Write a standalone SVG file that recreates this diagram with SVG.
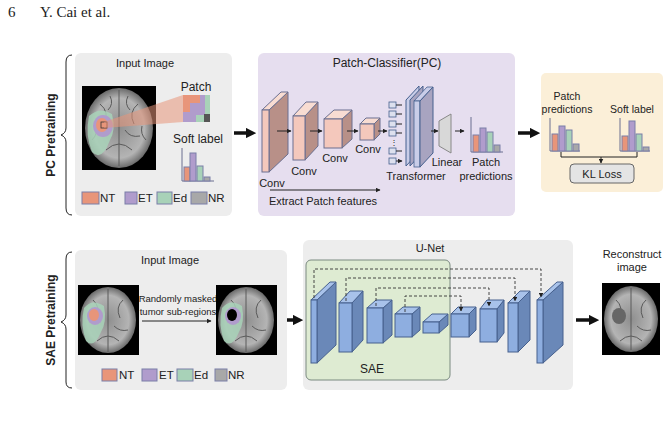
<svg xmlns="http://www.w3.org/2000/svg" width="669" height="430" viewBox="0 0 669 430">
<defs>
<style>
text{font-family:"Liberation Sans",Arial,sans-serif;font-size:11px;fill:#222}
.c{text-anchor:middle}
.lg{font-size:11.5px}
.nt{fill:#e8957a;stroke:#7a7fa8;stroke-width:1}
.et{fill:#b09ccc;stroke:#7a7fa8;stroke-width:1}
.ed{fill:#a8d2b8;stroke:#7a7fa8;stroke-width:1}
.nr{fill:#a8a8a8;stroke:#7a7fa8;stroke-width:1}
.ln{stroke:#222;stroke-width:1;fill:none}
.thick{stroke:#111;stroke-width:3.5;fill:none}
.dash{stroke:#333;stroke-width:0.9;fill:none;stroke-dasharray:3,2}
.pf{fill:#f4c8bc;stroke:#6a6f90;stroke-width:1}
.ps{fill:#b89088;stroke:#6a6f90;stroke-width:1}
.pt{fill:#f8dcd2;stroke:#6a6f90;stroke-width:1}
.bf{fill:#8eaee0;stroke:#46608e;stroke-width:1}
.bs{fill:#6a88b8;stroke:#46608e;stroke-width:1}
.bt{fill:#a8c2ea;stroke:#46608e;stroke-width:1}
.sul{stroke:#5a5a5a;stroke-width:1;fill:none}
</style>
<marker id="a" viewBox="0 0 10 10" refX="9" refY="5" markerWidth="5" markerHeight="5" orient="auto"><path d="M0,0L10,5L0,10z" fill="#222"/></marker>
<marker id="A" viewBox="0 0 10 10" refX="5" refY="5" markerWidth="3" markerHeight="3" orient="auto"><path d="M0,0L10,5L0,10z" fill="#111"/></marker>
<radialGradient id="brain" cx="0.5" cy="0.5" r="0.5"><stop offset="0" stop-color="#8e8e8e"/><stop offset="0.75" stop-color="#b4b4b4"/><stop offset="1" stop-color="#6a6a6a"/></radialGradient>
</defs>
<rect width="669" height="430" fill="#fff"/>
<text x="8" y="17" style="font-family:'Liberation Serif',serif;font-size:15px">6</text>
<text x="40" y="17" style="font-family:'Liberation Serif',serif;font-size:15px">Y. Cai et al.</text>

<g id="pc-label">
<path class="ln" d="M72,55 Q66,55 66,62 L66,128 Q66,133 61,135 Q66,137 66,142 L66,208 Q66,215 72,215"/>
<text transform="translate(55,135) rotate(-90)" class="c" style="font-weight:bold;font-size:12px">PC Pretraining</text>
</g>
<g id="input1">
<rect x="75" y="53" width="157" height="163" rx="6" fill="#ededed"/>
<text x="145" y="67" class="c">Input Image</text>
<rect x="82" y="86" width="74" height="84" fill="#000"/>
<ellipse cx="119" cy="128" rx="34" ry="40" fill="url(#brain)"/>
<path class="sul" d="M119,90 L119,166 M100,104 Q110,112 104,124 M138,104 Q128,112 134,124 M106,150 Q119,138 132,150 M92,140 Q98,134 96,126 M146,140 Q140,134 142,126 M110,96 Q114,104 108,110 M128,96 Q124,104 130,110 M125,130 Q130,138 140,136"/>
<path d="M89,116 Q100,106 112,114 Q116,130 110,140 Q102,162 92,152 Q85,135 89,116z" fill="#a8d2b8" opacity="0.85"/>
<ellipse cx="103" cy="126" rx="10" ry="11" fill="#b09ccc"/>
<ellipse cx="102" cy="125" rx="6" ry="7" fill="#e8957a"/>
<rect x="101" y="122" width="6" height="6" fill="none" stroke="#333" stroke-width="0.8"/>
<polygon points="104,122 183,95 183,122 104,128" fill="#e8957a" opacity="0.55"/>
<rect x="183" y="95" width="27" height="27" fill="#a8d2b8"/>
<path d="M183,95 H200 V103 H190 V112 H183z" fill="#e8957a"/>
<path d="M190,103 H200 V95 H205 V115 H196 V122 H183 V112 H190z" fill="#b09ccc"/>
<rect x="204" y="114" width="6" height="8" fill="#555"/>
<text x="196" y="91" class="c" style="font-size:12px">Patch</text>
<text x="198" y="143" class="c" style="font-size:12px">Soft label</text>
<path d="M182,148 V181 H214" stroke="#6a6f90" stroke-width="1" fill="none"/>
<rect x="184" y="167" width="6" height="14" class="nt"/>
<rect x="190" y="153" width="6" height="28" class="et"/>
<rect x="197" y="166" width="6" height="15" class="ed"/>
<rect x="204" y="177" width="6" height="4" class="nr"/>
<rect x="82" y="192" width="17" height="12" class="nt"/><text x="100" y="202" class="lg">NT</text>
<rect x="125" y="192" width="12" height="12" class="et"/><text x="138" y="202" class="lg">ET</text>
<rect x="157" y="192" width="15" height="12" class="ed"/><text x="173" y="202" class="lg">Ed</text>
<rect x="191" y="192" width="16" height="12" class="nr"/><text x="208" y="202" class="lg">NR</text>
</g>
<g id="connectors">
<path class="thick" d="M234,133 H251" marker-end="url(#A)"/>
<path class="thick" d="M518,133 H535" marker-end="url(#A)"/>
<path class="thick" d="M281,320 H298" marker-end="url(#A)"/>
<path class="thick" d="M576,320 H594" marker-end="url(#A)"/>
</g>
<g id="pc">
<rect x="258" y="53" width="257" height="163" rx="6" fill="#e6deef"/>
<text x="387" y="67" class="c" style="font-size:12px">Patch-Classifier(PC)</text>
<polygon class="ps" points="269,110 288,92 288,154 269,172"/><polygon class="pt" points="262,110 281,92 288,92 269,110"/><rect class="pf" x="262" y="110" width="7" height="62"/>
<polygon class="ps" points="305,116 318,102 318,146 305,160"/><polygon class="pt" points="293,116 306,102 318,102 305,116"/><rect class="pf" x="293" y="116" width="12" height="44"/>
<polygon class="ps" points="342,119 352,110 352,139 342,148"/><polygon class="pt" points="324,119 334,110 352,110 342,119"/><rect class="pf" x="324" y="119" width="18" height="29"/>
<polygon class="ps" points="374,124 380,118 380,134 374,140"/><polygon class="pt" points="360,124 366,118 380,118 374,124"/><rect class="pf" x="360" y="124" width="14" height="16"/>
<path class="ln" d="M277,131 H291" marker-end="url(#a)"/>
<path class="ln" d="M310,131 H322" marker-end="url(#a)"/>
<path class="ln" d="M347,131 H358" marker-end="url(#a)"/>
<path class="ln" d="M378,131 H387" marker-end="url(#a)"/>
<text x="272" y="187" class="c">Conv</text><text x="304" y="175" class="c">Conv</text><text x="335" y="162" class="c">Conv</text><text x="368" y="153" class="c">Conv</text>
<g fill="#dde0ee" stroke="#46608e" stroke-width="0.8">
<rect x="389" y="102" width="7" height="6"/><rect x="389" y="111" width="7" height="6"/><rect x="389" y="121" width="7" height="6"/><rect x="389" y="130" width="7" height="6"/><rect x="389" y="148" width="7" height="6"/><rect x="389" y="158" width="7" height="6"/>
</g>
<g class="ln" stroke-width="0.8"><path d="M396,105H402M396,114H402M396,124H402M396,133H402M396,151H402M396,161H402" marker-end="url(#a)"/></g>
<text x="390" y="145" style="font-size:8px">⋮</text>
<polygon points="406,100 419,86 419,152 406,166" fill="#c9cde8" stroke="#46608e"/>
<polygon points="410,100 423,86 423,152 410,166" fill="#a8a4c0" stroke="#46608e"/>
<polygon points="414,101 427,87 433,87 420,101" fill="#c9cde8" stroke="#46608e" stroke-width="0.8"/>
<rect x="414" y="101" width="6" height="66" fill="#c9cde8" stroke="#46608e" stroke-width="0.8"/>
<polygon points="420,101 433,87 433,153 420,167" fill="#a8a4c0" stroke="#46608e"/>
<path class="ln" d="M431,131 H438" marker-end="url(#a)"/>
<polygon points="439,121 451,114 451,153 439,146" fill="#d8d8d8" stroke="#888"/>
<path class="ln" d="M455,131 H464" marker-end="url(#a)"/>
<text x="416" y="180" class="c">Transformer</text>
<text x="447" y="166" class="c">Linear</text>
<path d="M471,117 V152 H503" stroke="#6a6f90" fill="none"/>
<rect x="473" y="135" width="6" height="17" class="nt"/><rect x="480" y="128" width="6" height="24" class="et"/><rect x="487" y="132" width="6" height="20" class="ed"/><rect x="494" y="145" width="6" height="7" class="nr"/>
<text x="486" y="166" class="c">Patch</text><text x="486" y="180" class="c">predictions</text>
<path class="ln" d="M270,190 H380" marker-end="url(#a)"/>
<text x="323" y="205" class="c">Extract Patch features</text>
</g>
<g id="kl">
<rect x="541" y="73" width="122" height="119" rx="5" fill="#fbefd8"/>
<text x="567" y="100" class="c" style="font-size:10.5px">Patch</text>
<text x="567" y="113" class="c" style="font-size:10.5px">predictions</text>
<text x="632" y="113" class="c" style="font-size:10.5px">Soft label</text>
<path d="M550,118 V151 H580" stroke="#6a6f90" fill="none"/>
<rect x="552" y="134" width="6" height="17" class="nt"/><rect x="559" y="126" width="6" height="25" class="et"/><rect x="566" y="130" width="6" height="21" class="ed"/><rect x="573" y="144" width="6" height="7" class="nr"/>
<path d="M620,118 V151 H650" stroke="#6a6f90" fill="none"/>
<rect x="622" y="136" width="6" height="15" class="nt"/><rect x="629" y="121" width="6" height="30" class="et"/><rect x="636" y="134" width="6" height="17" class="ed"/><rect x="643" y="147" width="6" height="4" class="nr"/>
<path class="ln" d="M561,152 V157 H637 V152 M601,157 V163" marker-end="url(#a)"/>
<rect x="570" y="164" width="64" height="19" rx="4" fill="#e4e4e4" stroke="#666"/>
<text x="602" y="178" class="c">KL Loss</text>
</g>

<g id="sae-label">
<path class="ln" d="M72,252 Q66,252 66,259 L66,315 Q66,320 61,322 Q66,324 66,329 L66,382 Q66,388 72,388"/>
<text transform="translate(55,320) rotate(-90)" class="c" style="font-weight:bold;font-size:12px">SAE Pretraining</text>
</g>
<g id="input2">
<rect x="75" y="250" width="212" height="140" rx="6" fill="#ededed"/>
<text x="170" y="264" class="c">Input Image</text>
<rect x="78" y="285" width="61" height="70" fill="#000"/>
<ellipse cx="108" cy="320" rx="28" ry="33" fill="url(#brain)"/>
<path class="sul" d="M108,289 V352 M93,300 Q101,307 96,318 M123,300 Q115,307 120,318 M97,341 Q108,331 119,341 M114,326 Q120,332 128,330"/>
<path d="M84,308 Q92,298 104,306 Q107,322 101,332 Q94,349 86,341 Q80,325 84,308z" fill="#a8d2b8" opacity="0.85"/>
<ellipse cx="95" cy="316" rx="8" ry="9" fill="#b09ccc"/><ellipse cx="94" cy="315" rx="5" ry="6" fill="#e8957a"/>
<text x="178" y="302" class="c" style="font-size:9.5px">Randomly masked</text>
<text x="178" y="315" class="c" style="font-size:9.5px">tumor sub-regions</text>
<path class="ln" d="M142,321 H211" marker-end="url(#a)"/>
<rect x="216" y="285" width="61" height="70" fill="#000"/>
<ellipse cx="246" cy="320" rx="28" ry="33" fill="url(#brain)"/>
<path class="sul" d="M246,289 V352 M231,300 Q239,307 234,318 M261,300 Q253,307 258,318 M235,341 Q246,331 257,341 M252,326 Q258,332 266,330"/>
<path d="M222,308 Q230,298 242,306 Q245,322 239,332 Q232,349 224,341 Q218,325 222,308z" fill="#a8d2b8" opacity="0.85"/>
<ellipse cx="233" cy="316" rx="8" ry="9" fill="#b09ccc"/><ellipse cx="232" cy="315" rx="5" ry="6" fill="#000"/>
<rect x="102" y="369" width="15" height="12" class="nt"/><text x="119" y="379" class="lg">NT</text>
<rect x="142" y="369" width="15" height="12" class="et"/><text x="159" y="379" class="lg">ET</text>
<rect x="177" y="369" width="16" height="12" class="ed"/><text x="194" y="379" class="lg">Ed</text>
<rect x="215" y="369" width="12" height="12" class="nr"/><text x="228" y="379" class="lg">NR</text>
</g>
<g id="unet">
<rect x="303" y="240" width="270" height="150" rx="6" fill="#ededed"/>
<text x="430" y="252" class="c">U-Net</text>
<rect x="306" y="260" width="144" height="120" rx="5" fill="#deebd2" stroke="#7a8a80"/>
<text x="372" y="373" class="c" style="font-size:12px">SAE</text>
<polygon class="bs" points="317,300 336,282 336,345 317,363"/><polygon class="bt" points="311,300 330,282 336,282 317,300"/><rect class="bf" x="311" y="300" width="6" height="63"/>
<polygon class="bs" points="352,303 363,291 363,340 352,352"/><polygon class="bt" points="339,303 350,291 363,291 352,303"/><rect class="bf" x="339" y="303" width="13" height="49"/>
<polygon class="bs" points="383,308 392,300 392,335 383,343"/><polygon class="bt" points="367,308 376,300 392,300 383,308"/><rect class="bf" x="367" y="308" width="16" height="35"/>
<polygon class="bs" points="412,314 420,307 420,330 412,337"/><polygon class="bt" points="395,314 403,307 420,307 412,314"/><rect class="bf" x="395" y="314" width="17" height="23"/>
<polygon class="bs" points="439,322 448,314 448,325 439,333"/><polygon class="bt" points="423,322 432,314 448,314 439,322"/><rect class="bf" x="423" y="322" width="16" height="11"/>
<polygon class="bs" points="469,314 476,307 476,330 469,337"/><polygon class="bt" points="451,314 458,307 476,307 469,314"/><rect class="bf" x="451" y="314" width="18" height="23"/>
<polygon class="bs" points="497,309 504,300 504,333 497,342"/><polygon class="bt" points="480,309 487,300 504,300 497,309"/><rect class="bf" x="480" y="309" width="17" height="33"/>
<polygon class="bs" points="518,303 530,291 530,340 518,352"/><polygon class="bt" points="508,303 520,291 530,291 518,303"/><rect class="bf" x="508" y="303" width="10" height="49"/>
<polygon class="bs" points="543,300 563,282 563,345 543,363"/><polygon class="bt" points="537,300 557,282 563,282 543,300"/><rect class="bf" x="537" y="300" width="6" height="63"/>
<path class="dash" d="M314,298 V269 H541 V297" marker-end="url(#a)"/>
<path class="dash" d="M346,301 V278 H515 V301" marker-end="url(#a)"/>
<path class="dash" d="M376,306 V288 H489 V306" marker-end="url(#a)"/>
<path class="dash" d="M405,312 V296 H461 V311" marker-end="url(#a)"/>
</g>
<g id="recon">
<text x="632" y="258" class="c">Reconstruct</text><text x="632" y="271" class="c">image</text>
<rect x="602" y="283" width="58" height="72" fill="#000"/>
<ellipse cx="631" cy="319" rx="27" ry="33" fill="url(#brain)"/>
<path class="sul" d="M631,288 V350 M616,300 Q624,307 619,318 M646,300 Q638,307 643,318 M620,341 Q631,331 642,341 M637,326 Q643,332 651,330"/>
<ellipse cx="619" cy="316" rx="7" ry="8" fill="#666"/>
</g>
</svg>
